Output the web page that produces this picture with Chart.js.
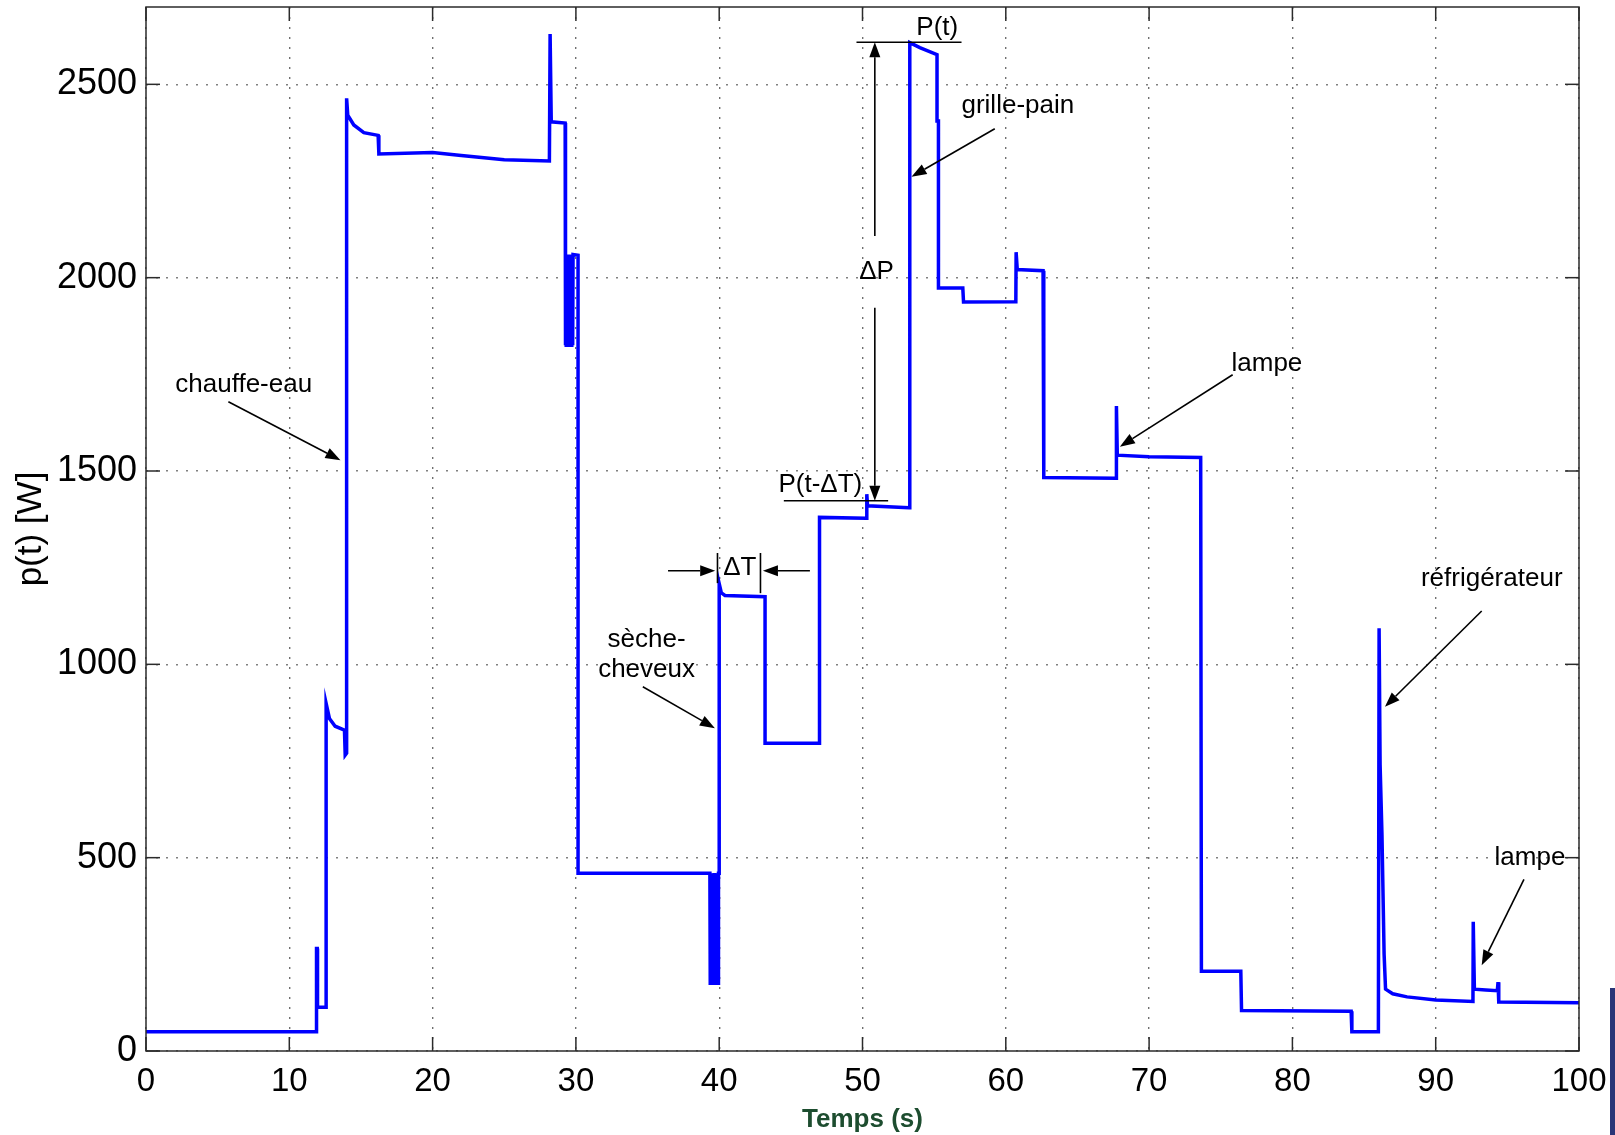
<!DOCTYPE html>
<html>
<head>
<meta charset="utf-8">
<script src="https://cdn.jsdelivr.net/npm/chart.js@4/dist/chart.umd.min.js"></script>
<style>
  html, body { margin: 0; padding: 0; background: #fff; }
  #wrap { position: relative; width: 1615px; height: 1135px; }
  #c { display: block; }
  #edge { position: absolute; left: 1610px; top: 988px; width: 5px; height: 147px; background: #2a3577; }
</style>
</head>
<body>
<div id="wrap">
  <canvas id="c" width="1615" height="1135"></canvas>
  <div id="edge"></div>
</div>
<script>
// ---- data ----
const temps = [
  0, 11.9, 11.9, 11.95, 11.97, 12.57, 12.57, 12.8, 13.2, 13.85, 13.9, 14.0,
  14.0, 14.08, 14.5, 15.2, 16.2, 16.25, 20.0, 22.0, 25.0, 28.15, 28.2, 28.28, 29.25,
  29.25, 29.275, 29.30, 29.325, 29.35, 29.375, 29.40, 29.425, 29.45, 29.475, 29.50,
  29.525, 29.55, 29.575, 29.60, 29.625, 29.65, 29.675, 29.70, 29.725, 29.75, 29.775, 29.80,
  30.15, 30.15, 39.35,
  39.375, 39.40, 39.425, 39.45, 39.475, 39.50, 39.525, 39.55, 39.575, 39.60, 39.625, 39.65,
  39.675, 39.70, 39.725, 39.75, 39.775, 39.80, 39.825, 39.85, 39.875, 39.90, 39.925, 39.95,
  40.0, 40.0, 40.15, 40.4, 43.2, 43.2, 47.0, 47.0, 50.27, 50.3, 50.35, 53.25,
  53.3, 54.0, 55.2, 55.2, 55.3, 55.3, 57.0, 57.05, 60.7, 60.72, 60.8, 62.6,
  62.65, 67.7, 67.72, 67.78, 70.0, 73.6, 73.65, 76.4, 76.45, 84.1, 84.15, 86.0,
  86.05, 86.12, 86.25, 86.4, 86.5, 87.0, 88.0, 90.0, 92.6, 92.62, 92.7, 93.5,
  94.3, 94.35, 94.4, 100
];
const puissance = [
  50, 50, 265, 265, 113, 113, 899, 860, 840, 830, 765, 770,
  2464, 2420, 2395, 2375, 2368, 2320, 2324, 2316, 2305, 2302, 2630, 2403, 2400,
  2060, 1825, 2060, 1825, 2060, 1825, 2060, 1825, 2060, 1825, 2060,
  1825, 2060, 1825, 2060, 1825, 2060, 1825, 2060, 1825, 2060, 1825, 2060,
  2058, 460, 460,
  175, 460, 175, 460, 175, 460, 175, 460, 175, 460, 175, 460,
  175, 460, 175, 460, 175, 460, 175, 460, 175, 460, 175, 460,
  460, 1209, 1185, 1178, 1175, 796, 796, 1380, 1378, 1440, 1410, 1405,
  2608, 2595, 2577, 2405, 2405, 1973, 1973, 1937, 1938, 2066, 2021, 2018,
  1483, 1481, 1668, 1541, 1537, 1535, 206, 206, 105, 103, 50, 50,
  1093, 740, 560, 250, 160, 148, 140, 132, 128, 334, 160, 158,
  156, 178, 127, 125
];
const xTicks = [0, 10, 20, 30, 40, 50, 60, 70, 80, 90, 100];
const yTicks = [0, 500, 1000, 1500, 2000, 2500];

// ---- annotations (data coordinates) ----
const annotTexts = [
  { text: 'chauffe-eau', t: 6.82, p: 1722 },
  { text: 'P(t)', t: 55.22, p: 2646 },
  { text: '\u0394P', t: 50.98, p: 2016 },
  { text: 'P(t-\u0394T)', t: 47.06, p: 1464 },
  { text: 'grille-pain', t: 60.84, p: 2444 },
  { text: '\u0394T', t: 41.44, p: 1249 },
  { text: 'sèche-', t: 34.93, p: 1063 },
  { text: 'cheveux', t: 34.93, p: 985 },
  { text: 'lampe', t: 78.22, p: 1777 },
  { text: 'réfrigérateur', t: 93.91, p: 1221 },
  { text: 'lampe', t: 96.58, p: 500 }
];
const annotArrows = [
  { t1: 5.75, p1: 1679, t2: 13.57, p2: 1528 },
  { t1: 59.23, p1: 2385, t2: 53.42, p2: 2261 },
  { t1: 50.86, p1: 2108, t2: 50.86, p2: 2609 },
  { t1: 50.86, p1: 1922, t2: 50.86, p2: 1423 },
  { t1: 36.43, p1: 1242, t2: 39.72, p2: 1242 },
  { t1: 46.33, p1: 1242, t2: 43.05, p2: 1242 },
  { t1: 34.67, p1: 942, t2: 39.7, p2: 835 },
  { t1: 75.83, p1: 1749, t2: 67.96, p2: 1563 },
  { t1: 93.21, p1: 1138, t2: 86.46, p2: 890 },
  { t1: 96.16, p1: 444, t2: 93.21, p2: 222 }
];
const annotLines = [
  { t1: 49.58, p1: 2609, t2: 56.91, p2: 2609 },
  { t1: 44.51, p1: 1423, t2: 51.79, p2: 1423 },
  { t1: 39.88, p1: 1288, t2: 39.88, p2: 1210 },
  { t1: 42.88, p1: 1288, t2: 42.88, p2: 1184 }
];

const FONT = '"Liberation Sans", Arial, sans-serif';

const framePlugin = {
  id: 'frameAnnot',
  afterDatasetsDraw(chart) {
    const { ctx, chartArea: a, scales: { x, y } } = chart;
    ctx.save();
    ctx.lineCap = 'butt';
    ctx.strokeStyle = '#2b2b2b';
    ctx.lineWidth = 1.5;
    ctx.strokeRect(a.left, a.top, a.right - a.left, a.bottom - a.top);
    const seg = (x1, y1, x2, y2) => { ctx.beginPath(); ctx.moveTo(x1, y1); ctx.lineTo(x2, y2); ctx.stroke(); };
    const TL = 14;
    xTicks.forEach(v => {
      const px = x.getPixelForValue(v);
      seg(px, a.bottom, px, a.bottom - TL);
      seg(px, a.top, px, a.top + TL);
    });
    yTicks.forEach(v => {
      const py = y.getPixelForValue(v);
      seg(a.left, py, a.left + TL, py);
      seg(a.right, py, a.right - TL, py);
    });
    ctx.strokeStyle = '#000';
    ctx.fillStyle = '#000';
    ctx.lineWidth = 1.6;
    annotLines.forEach(l => {
      seg(x.getPixelForValue(l.t1), y.getPixelForValue(l.p1), x.getPixelForValue(l.t2), y.getPixelForValue(l.p2));
    });
    annotArrows.forEach(ar => {
      const x1 = x.getPixelForValue(ar.t1), y1 = y.getPixelForValue(ar.p1);
      const x2 = x.getPixelForValue(ar.t2), y2 = y.getPixelForValue(ar.p2);
      const ang = Math.atan2(y2 - y1, x2 - x1);
      const hl = 15, hw = 5.5;
      const bx = x2 - hl * Math.cos(ang), by = y2 - hl * Math.sin(ang);
      seg(x1, y1, bx, by);
      ctx.beginPath();
      ctx.moveTo(x2, y2);
      ctx.lineTo(bx + hw * Math.sin(ang), by - hw * Math.cos(ang));
      ctx.lineTo(bx - hw * Math.sin(ang), by + hw * Math.cos(ang));
      ctx.closePath();
      ctx.fill();
    });
    ctx.font = '26px ' + FONT;
    ctx.textAlign = 'center';
    ctx.textBaseline = 'middle';
    annotTexts.forEach(tx => {
      ctx.fillText(tx.text, x.getPixelForValue(tx.t), y.getPixelForValue(tx.p));
    });
    ctx.restore();
  }
};

new Chart(document.getElementById('c'), {
  type: 'line',
  data: {
    datasets: [{
      data: temps.map((t, i) => ({ x: t, y: puissance[i] })),
      borderColor: '#0000ff',
      borderWidth: 3.5,
      pointRadius: 0,
      tension: 0,
      fill: false
    }]
  },
  options: {
    responsive: false,
    animation: false,
    events: [],
    layout: { padding: { top: 7, right: 36, bottom: 0, left: 0 } },
    plugins: { legend: { display: false }, tooltip: { enabled: false } },
    scales: {
      x: {
        type: 'linear',
        min: 0, max: 100,
        afterBuildTicks: s => { s.ticks = xTicks.map(v => ({ value: v })); },
        afterFit: s => { s.height = 84; s.paddingLeft = 0; s.paddingRight = 0; },
        ticks: { color: '#000', padding: 11, maxRotation: 0, autoSkip: false,
                 callback: v => String(v), font: { family: FONT, size: 33 } },
        grid: { color: '#707070', lineWidth: 1.4, drawTicks: false },
        border: { display: false, dash: [2, 8] },
        title: { display: true, text: 'Temps (s)', color: '#1d4d2f', padding: { top: 0, bottom: 0 },
                 font: { family: FONT, size: 26, weight: 'bold', lineHeight: 1.2 } }
      },
      y: {
        min: 0, max: 2700,
        afterBuildTicks: s => { s.ticks = yTicks.map(v => ({ value: v })); },
        afterFit: s => { s.width = 146; s.paddingTop = 0; s.paddingBottom = 0; },
        ticks: { color: '#000', padding: 9, callback: v => String(v), font: { family: FONT, size: 36 } },
        grid: { color: '#808080', lineWidth: 1.4, drawTicks: false },
        border: { display: false, dash: [2, 8] },
        title: { display: true, text: 'p(t) [W]', color: '#000', padding: { top: 10, bottom: 0 },
                 font: { family: FONT, size: 35, lineHeight: 1.2 } }
      }
    }
  },
  plugins: [framePlugin]
});
</script>
</body>
</html>
